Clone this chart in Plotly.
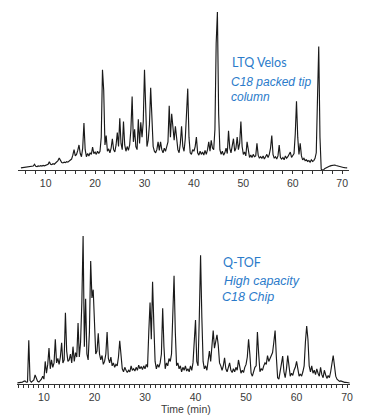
import plotly.graph_objects as go

# ---------------- data (relative intensity, %), sampled every 0.25 min ----------------
step_min = 0.25

top_start = 5.0
top_intensity = [
    # 5.00 - 9.75
    0.4, 0.5, 0.4, 0.6, 0.8, 0.6, 0.9, 0.8, 1.1, 1.0, 1.5, 2.7, 1.4, 1.2, 1.6, 1.4, 1.8, 1.5, 1.9, 1.7,
    # 10.00 - 14.75
    2.0, 2.4, 2.6, 4.2, 2.7, 2.5, 3.0, 2.7, 3.3, 4.0, 5.0, 6.7, 4.6, 3.8, 3.5, 4.0, 3.7, 4.3, 4.0, 4.6,
    # 15.00 - 19.75
    5.2, 6.0, 8.5, 12.0, 8.0, 9.0, 11.5, 15.0, 9.5, 7.5, 13.0, 29.0, 12.0, 7.5, 9.5, 8.0, 10.0, 9.0, 13.7, 9.5,
    # 20.00 - 24.75
    10.5, 9.0, 11.0, 9.5, 11.0, 20.0, 63.0, 50.0, 15.0, 21.0, 11.0, 12.5, 10.0, 13.0, 19.0, 12.0, 10.5, 15.0, 23.0, 14.0,
    # 25.00 - 29.75
    32.0, 16.0, 12.0, 30.0, 15.0, 11.0, 14.0, 11.5, 15.0, 25.0, 46.0, 17.0, 25.0, 14.0, 12.0, 31.5, 16.0, 29.5, 20.0, 30.0,
    # 30.00 - 34.75
    63.0, 42.0, 14.0, 18.0, 28.0, 51.5, 32.0, 14.0, 11.0, 10.0, 12.0, 17.0, 11.5, 17.0, 12.0, 10.0, 13.0, 11.0, 14.0, 17.0,
    # 35.00 - 39.75
    40.0, 20.0, 35.0, 24.0, 18.0, 27.0, 17.0, 12.0, 10.0, 16.0, 27.0, 14.0, 11.0, 19.0, 35.0, 51.0, 20.0, 10.0, 9.0, 12.0,
    # 40.00 - 44.75
    11.0, 14.0, 20.0, 10.0, 8.5, 11.0, 9.0, 10.5, 8.5, 11.5, 9.0, 12.0, 17.0, 11.0, 18.0, 13.0, 12.0, 25.0, 80.0, 100.0,
    # 45.00 - 49.75
    35.0, 12.0, 9.0, 11.0, 8.5, 10.0, 13.0, 9.5, 24.0, 13.0, 10.0, 14.0, 19.0, 11.0, 13.0, 20.0, 12.0, 16.0, 30.0, 14.0,
    # 50.00 - 54.75
    9.0, 10.5, 8.0, 17.0, 10.0, 7.0, 8.5, 7.0, 9.0, 7.5, 8.0, 16.0, 8.5, 6.5, 7.5, 6.5, 8.0, 6.0, 7.5, 9.0,
    # 55.00 - 59.75
    7.0, 9.0, 13.0, 21.0, 9.0, 6.5, 7.5, 6.0, 8.0, 15.0, 7.0, 6.0, 7.0, 5.5, 8.0, 6.5, 7.5, 9.0, 10.5, 7.0,
    # 60.00 - 64.75
    8.0, 9.5, 22.0, 43.0, 20.0, 9.0, 16.0, 8.0, 5.5, 6.5, 5.0, 5.5, 4.5, 5.0, 4.0, 5.5, 4.5, 5.0, 6.5, 10.0,
    # 65.00 - 69.75
    45.0, 78.0, 20.0, -0.5, -1.0, -0.8, 0.0, 0.5, 1.0, 1.3, 1.5, 1.8, 2.0, 1.8, 2.2, 1.9, 1.6, 1.3, 1.0, 0.8,
    # 70.00 - 71.00
    0.7, 0.6, 0.5, 0.5, 0.4,
]

bottom_start = 4.75
bottom_intensity = [
    # 4.75
    0.5,
    # 5.00 - 9.75
    0.6, 0.5, 0.8, 1.0, 1.5, 1.8, 0.9, 1.0, 29.4, 2.0, 1.0, 1.5, 2.5, 5.8, 3.0, 1.5, 1.0, 1.8, 3.0, 5.0,
    # 10.00 - 14.75
    3.0, 15.0, 7.0, 13.0, 24.0, 10.0, 16.0, 11.0, 14.0, 30.0, 14.0, 17.0, 13.0, 18.0, 27.6, 14.0, 16.0, 48.0, 22.0, 15.0,
    # 15.00 - 19.75
    16.0, 20.0, 14.0, 25.0, 15.0, 21.0, 18.0, 41.0, 18.0, 28.0, 55.0, 100.0, 25.0, 57.5, 20.0, 16.0, 35.0, 83.0, 58.0, 63.6,
    # 20.00 - 24.75
    35.0, 20.0, 22.0, 34.0, 20.0, 16.0, 19.0, 13.0, 15.0, 20.0, 35.0, 17.0, 14.0, 18.0, 12.0, 14.0, 11.0, 13.0, 12.0, 18.0,
    # 25.00 - 29.75
    29.0, 20.0, 10.0, 8.0, 11.0, 9.0, 7.5, 9.0, 8.0, 12.0, 9.0, 10.0, 8.5, 11.0, 9.0, 12.5, 10.0, 11.5, 9.5, 12.0,
    # 30.00 - 34.75
    10.0, 13.0, 11.0, 35.0, 55.0, 30.0, 69.0, 40.0, 15.0, 10.0, 13.0, 11.0, 14.0, 20.0, 51.0, 25.0, 10.0, 14.0, 12.0, 17.0,
    # 35.00 - 39.75
    15.0, 20.0, 50.0, 73.0, 35.0, 12.0, 14.0, 10.0, 12.0, 8.0, 11.0, 9.0, 12.0, 8.5, 10.0, 8.0, 12.0, 9.0, 14.0, 30.0,
    # 40.00 - 44.75
    43.0, 15.0, 12.0, 45.0, 87.0, 45.0, 15.0, 10.0, 12.0, 9.0, 14.0, 22.0, 15.0, 25.0, 36.0, 24.0, 28.0, 33.0, 26.0, 14.0,
    # 45.00 - 49.75
    12.0, 9.0, 12.0, 17.5, 10.0, 8.0, 11.0, 14.0, 9.0, 7.5, 10.0, 8.0, 11.0, 9.0, 16.0, 10.0, 7.0, 9.0, 7.5, 11.0,
    # 50.00 - 54.75
    13.0, 18.0, 30.0, 20.0, 7.0, 5.0, 9.0, 11.0, 12.0, 35.0, 20.0, 8.0, 10.0, 9.0, 12.0, 14.0, 13.0, 19.0, 15.0, 17.0,
    # 55.00 - 59.75
    18.0, 21.0, 28.0, 36.0, 18.0, 4.0, 3.0, 8.0, 12.0, 18.6, 8.0, 4.0, 10.0, 19.0, 12.0, 5.0, 7.0, 5.5, 9.0, 11.0,
    # 60.00 - 64.75
    15.0, 8.0, 5.0, 6.5, 5.0, 8.0, 12.0, 28.0, 39.0, 30.0, 12.0, 8.0, 12.0, 7.0, 9.0, 6.0, 10.0, 7.0, 5.0, 11.0,
    # 65.00 - 69.75
    6.0, 4.0, 9.0, 6.0, 3.5, 5.5, 4.0, 8.0, 14.0, 19.0, 12.0, 5.0, 3.0, 2.0, 1.5, 1.8, 1.3, 1.0, 0.8, 0.9,
    # 70.00 - 70.50
    0.6, 0.5, 0.4,
]

top_time = [round(top_start + step_min * i, 2) for i in range(len(top_intensity))]
bottom_time = [round(bottom_start + step_min * i, 2) for i in range(len(bottom_intensity))]

tick_values = [10, 20, 30, 40, 50, 60, 70]
tick_labels = ["10", "20", "30", "40", "50", "60", "70"]

top_label = ["LTQ Velos", "C18 packed tip", "column"]
bottom_label = ["Q-TOF", "High capacity", "C18 Chip"]
x_title = "Time (min)"

# ---------------- figure ----------------
W, H = 369, 418
def px(x):
    return x / W
def py(y):
    return 1 - y / H

line_color = "#1a1a1a"
axis_color = "#333333"
text_blue = "#2b7bca"
font_family = "Liberation Sans, Arial, Helvetica, sans-serif"
narrow_family = "Lato, Liberation Sans, sans-serif"

fig = go.Figure()
fig.add_trace(go.Scatter(x=top_time, y=top_intensity, mode="lines",
                         line=dict(color=line_color, width=1.15), xaxis="x", yaxis="y",
                         hoverinfo="skip", showlegend=False))
fig.add_trace(go.Scatter(x=bottom_time, y=bottom_intensity, mode="lines",
                         line=dict(color=line_color, width=1.15), xaxis="x2", yaxis="y2",
                         hoverinfo="skip", showlegend=False))

common_x = dict(showgrid=False, zeroline=False, showline=True, linecolor=axis_color, linewidth=1,
                ticks="outside", ticklen=3, tickcolor=axis_color, tickwidth=1,
                tickvals=tick_values, ticktext=tick_labels,
                tickfont=dict(family=font_family, size=10.5, color="#3a3a3a"))
common_y = dict(visible=False, showgrid=False, zeroline=False)

fig.update_layout(
    width=W, height=H,
    margin=dict(l=0, r=0, t=0, b=0),
    paper_bgcolor="white", plot_bgcolor="white",
    xaxis=dict(common_x, domain=[px(18), px(352)], range=[4.38, 71.4], anchor="y",
               minor=dict(dtick=2, tick0=0, ticks="outside", ticklen=3, tickcolor=axis_color)),
    yaxis=dict(common_y, domain=[py(170), py(12)], range=[-1, 100], anchor="x"),
    xaxis2=dict(common_x, domain=[px(17), px(353)], range=[4.64, 70.6], anchor="y2",
                minor=dict(dtick=1, tick0=0, ticks="outside", ticklen=3, tickcolor=axis_color)),
    yaxis2=dict(common_y, domain=[py(384.3), py(236)], range=[-0.5, 100], anchor="x2"),
)

annotations = []
# (x px, y px, style, family, size)
top_pos = [(231.5, 62.5, "normal", narrow_family, 12.5),
           (231.0, 81.5, "italic", font_family, 12),
           (231.0, 97.5, "italic", font_family, 12)]
for txt, (x, y, style, fam, size) in zip(top_label, top_pos):
    annotations.append(dict(text=txt, x=px(x), y=py(y), xref="paper", yref="paper",
                            xanchor="left", yanchor="middle", showarrow=False,
                            font=dict(family=fam, size=size, color=text_blue, style=style)))
bot_pos = [(222.5, 262.5, "normal", narrow_family, 12.5),
           (223.5, 281.0, "italic", font_family, 12.5),
           (222.0, 296.5, "italic", font_family, 12.5)]
for txt, (x, y, style, fam, size) in zip(bottom_label, bot_pos):
    annotations.append(dict(text=txt, x=px(x), y=py(y), xref="paper", yref="paper",
                            xanchor="left", yanchor="middle", showarrow=False,
                            font=dict(family=fam, size=size, color=text_blue, style=style)))
annotations.append(dict(text=x_title, x=px(188), y=py(408.5), xref="paper", yref="paper",
                        xanchor="center", yanchor="middle", showarrow=False,
                        font=dict(family=font_family, size=10.5, color="#3a3a3a")))
fig.update_layout(annotations=annotations)

fig.write_html("out.html",
               config={"displayModeBar": False, "staticPlot": True},
               post_script="document.body.style.margin='0px';document.body.style.overflow='hidden';")
